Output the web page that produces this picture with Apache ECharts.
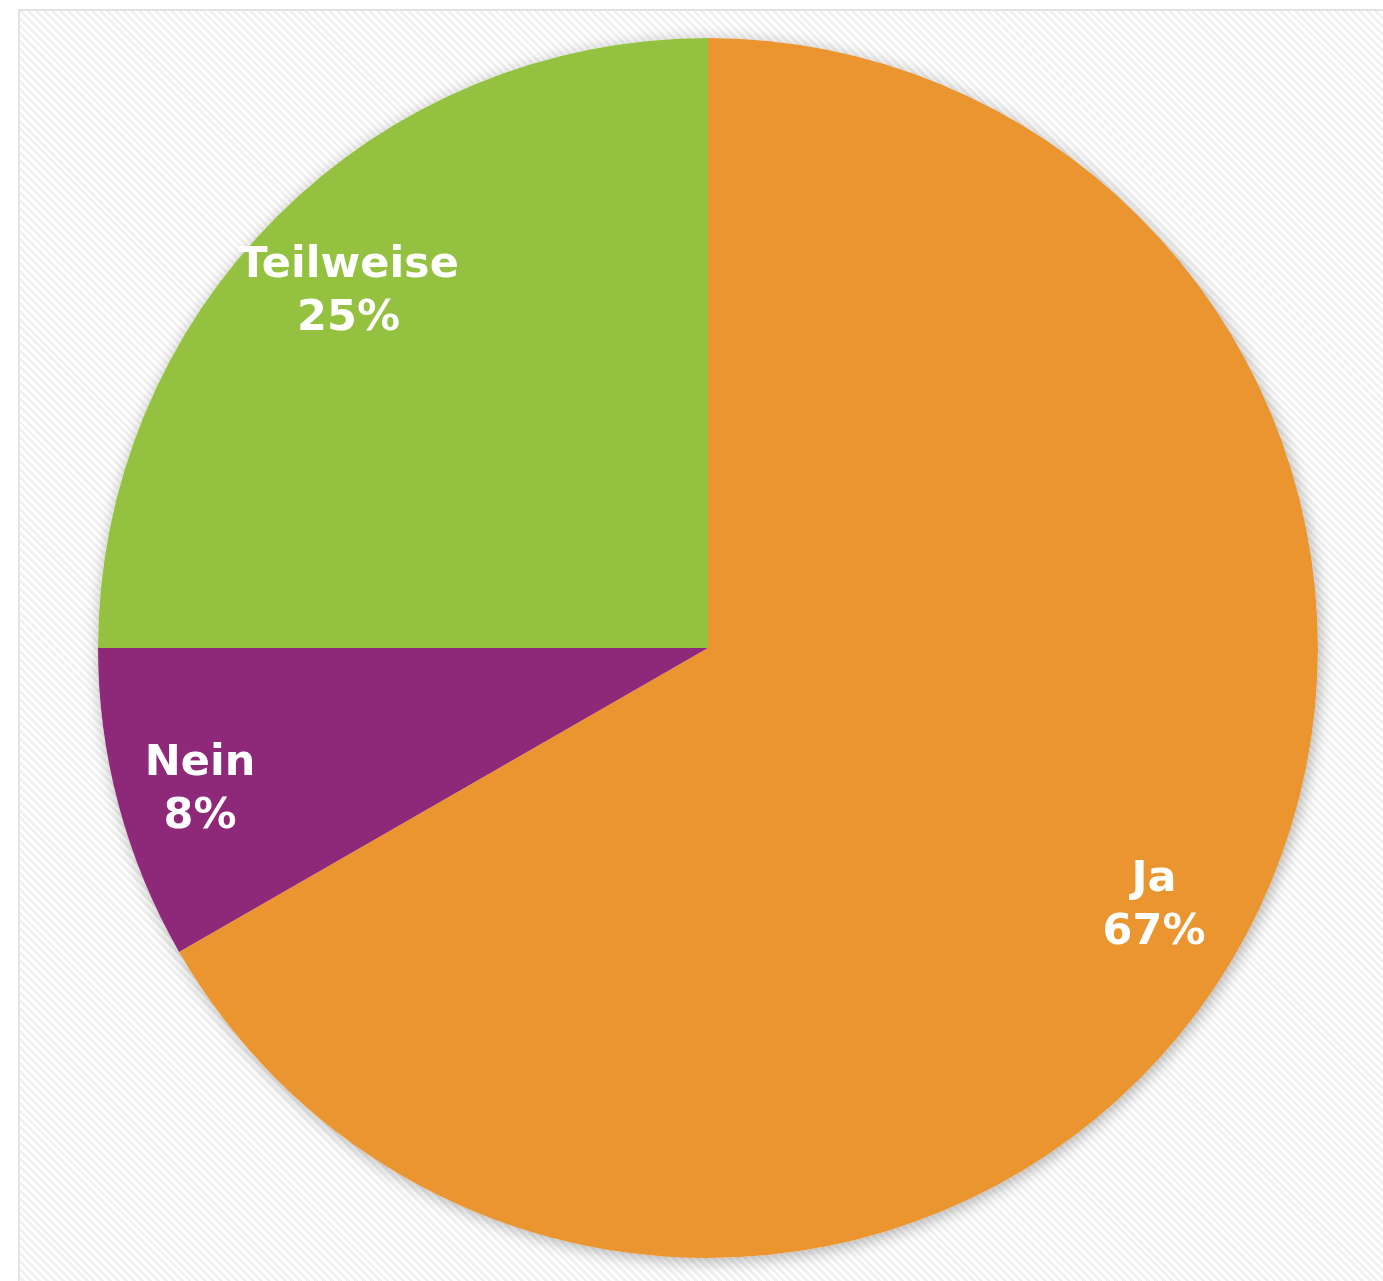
<!DOCTYPE html>
<html><head><meta charset="utf-8">
<script src="https://cdn.jsdelivr.net/npm/echarts@6/dist/echarts.min.js"></script>
<style>
html,body{margin:0;padding:0;background:#fff;width:1383px;height:1281px;overflow:hidden}
#frame{position:absolute;left:18px;top:9px;width:1400px;height:1300px;box-sizing:border-box;border:2px solid #e3e3e3;
background:repeating-linear-gradient(45deg,#ffffff 0px,#ffffff 2.8px,#f1f1f1 2.8px,#f1f1f1 5.6px);}
#chart{position:absolute;left:0;top:0;width:1383px;height:1281px}
</style></head>
<body><div id="frame"></div><div id="chart"></div>
<script>
const categories = ['Ja', 'Nein', 'Teilweise'];
const values = [66.7, 8.3, 25];
const colors = ['#EA952F', '#8E2979', '#94C13F'];
const labelOffsets = [[0, 0], [-10, 9], [5, 9]];

const chart = echarts.init(document.getElementById('chart'), null, {renderer: 'canvas'});
const center = [708, 648];
const R = 610;
const data = categories.map((c, i) => ({name: c, value: values[i], itemStyle: {color: colors[i]}}));
chart.setOption({
  backgroundColor: 'transparent',
  animation: false,
  series: [
    {
      type: 'pie', center: center, radius: R, silent: true, z: 1,
      startAngle: 90, clockwise: true,
      label: {show: false}, labelLine: {show: false},
      data: [{value: 1, itemStyle: {color: '#ffffff', shadowBlur: 16, shadowColor: 'rgba(0,0,0,0.3)', shadowOffsetX: 2, shadowOffsetY: 3}}]
    },
    {
      type: 'pie', center: center, radius: R, silent: true, z: 2,
      startAngle: 90, clockwise: true,
      label: {show: false}, labelLine: {show: false},
      itemStyle: {borderWidth: 0},
      data: data
    },
    {
      type: 'pie', center: center, radius: [R * 0.68, R], silent: true, z: 3,
      startAngle: 90, clockwise: true,
      labelLine: {show: false},
      itemStyle: {color: 'rgba(0,0,0,0)', borderWidth: 0},
      label: {
        show: true, position: 'inside',
        formatter: p => p.name + '\n' + Math.round(p.value) + '%',
        color: '#ffffff', fontFamily: 'DejaVu Sans', fontWeight: 'bold', fontSize: 43, lineHeight: 53
      },
      data: categories.map((c, i) => ({name: c, value: values[i], label: {offset: labelOffsets[i]}}))
    }
  ]
});
</script></body></html>
